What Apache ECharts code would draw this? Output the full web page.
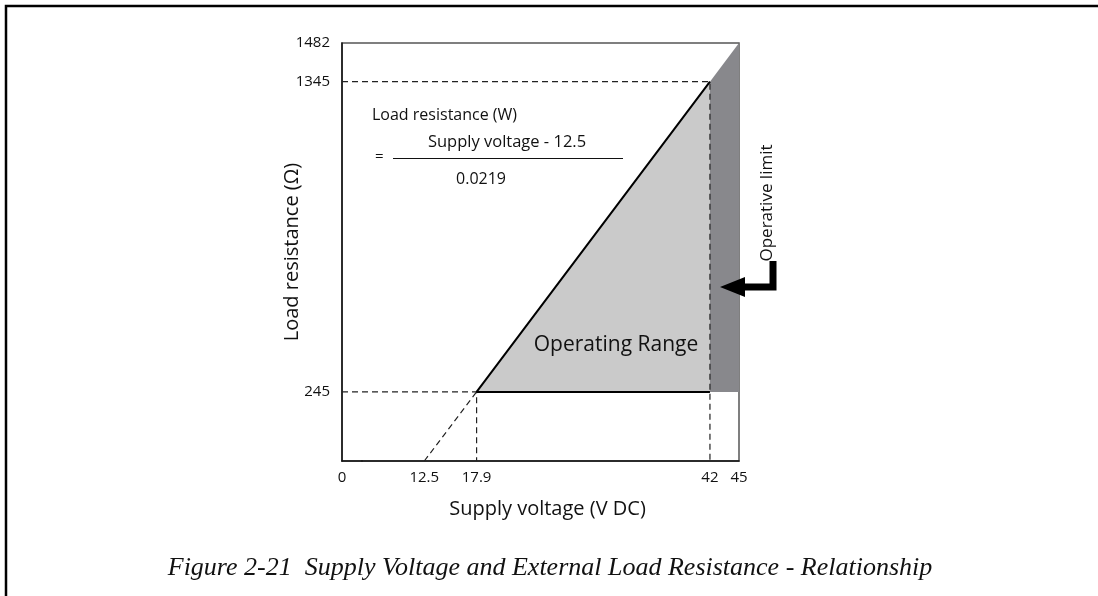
<!DOCTYPE html>
<html>
<head>
<meta charset="utf-8">
<script src="https://cdn.jsdelivr.net/npm/echarts@6/dist/echarts.min.js"></script>
<style>
  html, body { margin: 0; padding: 0; background: #fff; }
  #main { width: 1098px; height: 596px; }
</style>
</head>
<body>
<div id="main"></div>
<script>
// axis ticks shown on the figure
var xTicks = [0, 12.5, 17.9, 42, 45];
var yTicks = [245, 1345, 1482];

// shapes (supply voltage V, load resistance ohm)
var operatingRange = [[17.9, 245], [42, 1345], [42, 245]];
var operativeLimit = [[42, 245], [42, 1345], [45, 1482], [45, 245]];
var rangeEdge = [[42, 245], [17.9, 245], [42, 1345]];
var extrapolation = [[12.5, 0], [17.9, 245]];
var guideHigh = [[0, 1345], [42, 1345], [42, 0]];
var guideLow = [[0, 245], [17.9, 245], [17.9, 0]];

var font = '"Open Sans", sans-serif';

var chart = echarts.init(document.getElementById('main'));

function polygonSeries(points, color, z) {
  return {
    type: 'custom',
    z: z,
    silent: true,
    data: points,
    renderItem: function (params, api) {
      if (params.dataIndex !== 0) return null;
      var pts = points.map(function (p) { return api.coord(p); });
      return {
        type: 'polygon',
        shape: { points: pts },
        style: { fill: color }
      };
    }
  };
}

function lineSeries(data, style, z) {
  return {
    type: 'line',
    data: data,
    z: z,
    symbol: 'none',
    silent: true,
    animation: false,
    lineStyle: style
  };
}

var dashed = { color: '#222', width: 1.2, type: [6, 4] };

var option = {
  backgroundColor: '#fff',
  animation: false,
  grid: {
    left: 342, top: 43, width: 397, height: 418,
    show: true, borderColor: '#555', borderWidth: 1.5
  },
  xAxis: {
    type: 'value',
    min: 0, max: 45,
    breaks: [{ start: 2, end: 6, gap: 0 }],
    breakArea: { show: false },
    name: 'Supply voltage (V DC)',
    nameLocation: 'middle',
    nameGap: 38,
    nameTextStyle: { fontFamily: font, fontSize: 20, color: '#111', padding: [0, 0, 0, 14] },
    axisLine: { lineStyle: { color: '#111', width: 1.5 } },
    axisTick: { show: false },
    splitLine: { show: false },
    axisLabel: {
      customValues: xTicks,
      formatter: function (v) { return String(v); },
      fontFamily: font, fontSize: 15, color: '#111', margin: 9
    }
  },
  yAxis: {
    type: 'value',
    min: 0, max: 1482,
    name: 'Load resistance (\u03A9)',
    nameLocation: 'middle',
    nameGap: 40,
    nameMoveOverlap: false,
    nameTextStyle: { fontFamily: font, fontSize: 20, color: '#111' },
    axisLine: { show: true, lineStyle: { color: '#111', width: 1.5 } },
    axisTick: { show: false },
    splitLine: { show: false },
    axisLabel: {
      customValues: yTicks,
      formatter: function (v) { return String(v); },
      fontFamily: font, fontSize: 15, color: '#111', margin: 12
    }
  },
  series: [
    polygonSeries(operatingRange, '#cacaca', 1),
    polygonSeries(operativeLimit, '#88888c', 1),
    lineSeries(guideHigh, dashed, 3),
    lineSeries(guideLow, dashed, 3),
    lineSeries(extrapolation, dashed, 3),
    lineSeries(rangeEdge, { color: '#000', width: 2 }, 4)
  ],
  graphic: [
    {
      type: 'rect', z: 10, silent: true,
      shape: { x: 6, y: 6, width: 1200, height: 700 },
      style: { fill: null, stroke: '#000', lineWidth: 2.5 }
    },
    {
      type: 'text', left: 372, top: 107, z: 10,
      style: { text: 'Load resistance (W)', font: '16px ' + font, fill: '#111' }
    },
    {
      type: 'text', left: 375, top: 149, z: 10,
      style: { text: '=', font: '15px ' + font, fill: '#111' }
    },
    {
      type: 'line', z: 10,
      shape: { x1: 393, y1: 158.5, x2: 623, y2: 158.5 },
      style: { stroke: '#111', lineWidth: 1 }
    },
    {
      type: 'text', x: 507, y: 142, z: 10,
      style: { text: 'Supply voltage - 12.5', font: '16.5px ' + font, fill: '#111', align: 'center', verticalAlign: 'middle' }
    },
    {
      type: 'text', x: 481, y: 179, z: 10,
      style: { text: '0.0219', font: '16px ' + font, fill: '#111', align: 'center', verticalAlign: 'middle' }
    },
    {
      type: 'text', x: 616, y: 345, z: 10,
      style: { text: 'Operating Range', font: '21px ' + font, fill: '#111', align: 'center', verticalAlign: 'middle' }
    },
    {
      type: 'text', x: 767, y: 203, rotation: Math.PI / 2, z: 10,
      style: { text: 'Operative limit', font: '17px ' + font, fill: '#111', align: 'center', verticalAlign: 'middle' }
    },
    {
      type: 'polyline', z: 10,
      shape: { points: [[773, 261], [773, 287], [740, 287]] },
      style: { stroke: '#000', lineWidth: 7, fill: null }
    },
    {
      type: 'polygon', z: 10,
      shape: { points: [[720, 287], [745, 277], [745, 297]] },
      style: { fill: '#000' }
    },
    {
      type: 'text', x: 550, y: 568, z: 10,
      style: {
        text: 'Figure 2-21  Supply Voltage and External Load Resistance - Relationship',
        font: 'italic 26px "Liberation Serif", serif', fill: '#111', align: 'center', verticalAlign: 'middle'
      }
    }
  ]
};

chart.setOption(option);
</script>
</body>
</html>
